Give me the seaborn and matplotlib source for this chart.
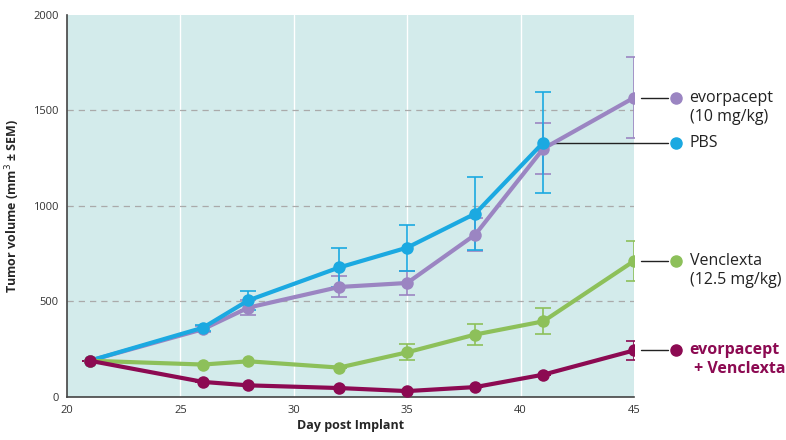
import pandas as pd
import seaborn as sns
import matplotlib.pyplot as plt

# values
days = [21, 26, 28, 32, 35, 38, 41, 45]
evo = [190, 355, 468, 576, 597, 850, 1300, 1567]
evo_sem = [0, 15, 40, 55, 65, 85, 135, 213]
pbs = [190, 363, 506, 678, 782, 960, 1332, None]
pbs_sem = [0, 15, 50, 100, 120, 190, 265, None]
ven = [190, 170, 187, 154, 234, 327, 396, 712]
ven_sem = [0, 0, 0, 0, 42, 57, 68, 103]
combo = [190, 79, 61, 47, 31, 52, 117, 244]
combo_sem = [0, 0, 0, 0, 0, 0, 0, 48]

groups = ["evorpacept", "PBS", "Venclexta", "combo"]
labels = ["evorpacept\n(10 mg/kg)", "PBS", "Venclexta\n(12.5 mg/kg)", "evorpacept\n + Venclexta"]
colors = ["#9B85C2", "#1BA9E1", "#8DC05A", "#8C0A52"]
label_y = [1567, 1332, 712, 244]

rows = []
for g, vals, sems in zip(groups, [evo, pbs, ven, combo], [evo_sem, pbs_sem, ven_sem, combo_sem]):
    for d, v, s in zip(days, vals, sems):
        if v is not None:
            rows.append({"day": d, "volume": v, "err": s, "group": g})
df = pd.DataFrame(rows)

sns.set_style("white")
plt.rcParams["font.family"] = ["Open Sans", "DejaVu Sans"]

fig = plt.figure(figsize=(7.86, 4.4), dpi=100)
ax = fig.add_axes([0.0852, 0.0977, 0.7214, 0.8683])
ax.set_facecolor("#D3EBEB")

# grid: white verticals, dashed grey horizontals
for x in [25, 30, 35, 40]:
    ax.axvline(x, color="white", lw=1.0, zorder=0)
for y in [500, 1000, 1500]:
    ax.axhline(y, color="#AAAAAA", lw=0.9, ls=(0, (5, 4)), zorder=0)

palette = dict(zip(groups, colors))
for g in groups:
    sub = df[df["group"] == g]
    ax.errorbar(sub["day"], sub["volume"], yerr=sub["err"], fmt="none", ecolor=palette[g],
                elinewidth=1.2, capsize=6, capthick=1.2, zorder=2)

sns.lineplot(data=df, x="day", y="volume", hue="group", hue_order=groups, palette=palette,
             marker="o", markersize=9, markeredgewidth=0, linewidth=3, legend=False,
             ax=ax, zorder=3)

ax.set_xlim(20, 45)
ax.set_ylim(0, 2000)
ax.set_xticks([20, 25, 30, 35, 40, 45])
ax.set_yticks([0, 500, 1000, 1500, 2000])
ax.tick_params(axis="both", labelsize=8, colors="#333333", length=0, pad=6)
for side in ["top", "right"]:
    ax.spines[side].set_visible(False)
for side in ["left", "bottom"]:
    ax.spines[side].set_color("#444444")
    ax.spines[side].set_linewidth(1.2)

ax.set_xlabel("Day post Implant", fontsize=9, fontweight="bold", labelpad=2)
ax.set_ylabel("Tumor volume (mm$^3$ ± SEM)", fontsize=9, fontweight="bold", labelpad=8)

# leader lines and labels at the right side
last_x = [45, 41, 45, 45]
for g, lab, c, ly, lx in zip(groups, labels, colors, label_y, last_x):
    ax.plot([lx + 0.3, 46.5], [ly, ly], color="#222222", lw=1.0, clip_on=False, zorder=1)
    ax.plot([46.85], [ly], "o", color=c, markersize=8, clip_on=False)
    bold = g == "combo"
    ax.text(47.45, ly + 42, lab, fontsize=11.5, color=c if bold else "#222222",
            fontweight="bold" if bold else "normal", va="top", ha="left", linespacing=1.25)

fig.savefig("out.png", dpi=100)
